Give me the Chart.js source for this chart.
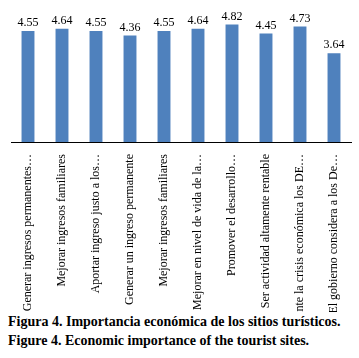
<!DOCTYPE html>
<html>
<head>
<meta charset="utf-8">
<script src="https://cdn.jsdelivr.net/npm/chart.js@4"></script>
<style>
  body { margin: 0; background: #fff; }
  #wrap { position: relative; width: 359px; height: 312px; }
  .cap { font-family: "Liberation Serif", "Times New Roman", serif; font-weight: bold; font-size: 14px;
         margin: 0 0 0 8px; line-height: 19px; color: #000; white-space: nowrap; }
</style>
</head>
<body>
<div id="wrap"><canvas id="ecoChart"></canvas></div>
<p class="cap" style="margin-top:0px">Figura 4. Importancia económica de los sitios turísticos.</p>
<p class="cap">Figure 4. Economic importance of the tourist sites.</p>
<script>
// categories (truncated as in the original figure)
const categories = [
    'Generar ingresos permanentes…',
    'Mejorar ingresos familiares',
    'Aportar ingreso justo a los…',
    'Generar un ingreso permanente',
    'Mejorar ingresos familiares',
    'Mejorar en nivel de vida de la…',
    'Promover el desarrollo…',
    'Ser actividad altamente rentable',
    'Ante la crisis económica los DE…',
    'El gobierno considera a los De…'
];

// mean scores
const scores = [4.55, 4.64, 4.55, 4.36, 4.55, 4.64, 4.82, 4.45, 4.73, 3.64];

const serif = '"Liberation Serif", "Times New Roman", serif';

// small plugin to write the value above each bar
const valueLabels = {
    id: 'valueLabels',
    afterDatasetsDraw(chart) {
        const ctx = chart.ctx;
        const meta = chart.getDatasetMeta(0);
        ctx.save();
        ctx.font = '12px ' + serif;
        ctx.fillStyle = '#000';
        ctx.textAlign = 'center';
        ctx.textBaseline = 'bottom';
        meta.data.forEach((bar, i) => {
            ctx.fillText(scores[i].toFixed(2), bar.x, bar.y - 2);
        });
        ctx.restore();
    }
};

function drawChart() {
    new Chart(document.getElementById('ecoChart'), {
        type: 'bar',
        data: {
            labels: categories,
            datasets: [{
                data: scores,
                backgroundColor: '#4F81BD',
                borderWidth: 0,
                barPercentage: 0.38,
                categoryPercentage: 1
            }]
        },
        options: {
            responsive: true,
            maintainAspectRatio: false,
            animation: false,
            layout: { padding: { top: 20, left: 11, right: 8, bottom: 0 } },
            plugins: {
                legend: { display: false },
                tooltip: { enabled: false }
            },
            scales: {
                x: {
                    grid: { display: false },
                    border: { display: true, color: '#000', width: 1 },
                    afterFit: (scale) => { scale.height = 170; },
                    ticks: {
                        maxRotation: 90,
                        minRotation: 90,
                        autoSkip: false,
                        padding: 4,
                        color: '#000',
                        font: { family: serif, size: 12 }
                    }
                },
                y: {
                    display: false,
                    min: 0,
                    max: 5
                }
            }
        },
        plugins: [valueLabels]
    });
}

document.fonts.load('12px "Liberation Serif"').then(drawChart, drawChart);
</script>
</body>
</html>
